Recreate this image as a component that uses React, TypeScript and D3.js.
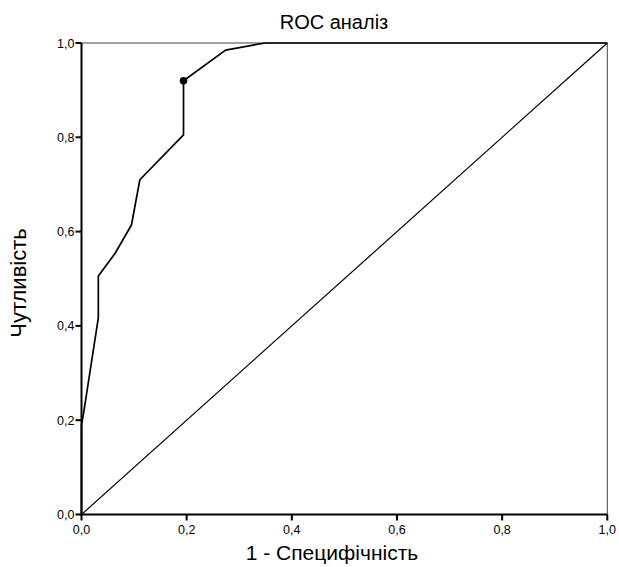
import React from "react";
import * as d3 from "d3";

const fpr = [0, 0, 0.004, 0.032, 0.032, 0.064, 0.095, 0.111, 0.194, 0.194, 0.274, 0.349, 1];
const tpr = [0, 0.19, 0.215, 0.417, 0.506, 0.554, 0.614, 0.71, 0.805, 0.92, 0.985, 1, 1];
const cutPoint = { x: 0.194, y: 0.92 };
const ticks = [0, 0.2, 0.4, 0.6, 0.8, 1.0];
const tickLabels = ["0,0", "0,2", "0,4", "0,6", "0,8", "1,0"];
const title = "ROC аналіз";
const xTitle = "1 - Специфічність";
const yTitle = "Чутливість";

const W = 619;
const H = 567;
const L = 81.5, R = 607.3, T = 43, B = 514.5;

export default function App() {
  const x = d3.scaleLinear().domain([0, 1]).range([L, R]);
  const y = d3.scaleLinear().domain([0, 1]).range([B, T]);
  const pts: [number, number][] = fpr.map((f, i) => [f, tpr[i]]);
  const line = d3.line<[number, number]>().x((d) => x(d[0])).y((d) => y(d[1]));
  const font = "Arial, 'Liberation Sans', sans-serif";
  return (
    <svg width={W} height={H} style={{ position: "absolute", left: 0, top: 0, background: "#fff" }} fontFamily={font}>
      <rect x={0} y={0} width={W} height={H} fill="#fff" />
      <text x={334} y={29} textAnchor="middle" fontSize={20} fill="#000">{title}</text>
      {/* frame top/right thin */}
      <line x1={x(0)} y1={y(1)} x2={x(1)} y2={y(1)} stroke="#444" strokeWidth={1} />
      <line x1={x(1)} y1={y(1)} x2={x(1)} y2={y(0)} stroke="#444" strokeWidth={1} />
      {/* diagonal */}
      <path d={line([[0, 0], [1, 1]]) || ""} stroke="#000" strokeWidth={1.2} fill="none" />
      {/* ROC curve */}
      <path d={line(pts) || ""} stroke="#000" strokeWidth={1.7} fill="none" strokeLinejoin="round" />
      <circle cx={x(cutPoint.x)} cy={y(cutPoint.y)} r={3.8} fill="#000" />
      {/* axes */}
      <line x1={x(0)} y1={y(0)} x2={x(1)} y2={y(0)} stroke="#000" strokeWidth={2} />
      <line x1={x(0)} y1={y(0)} x2={x(0)} y2={y(1)} stroke="#000" strokeWidth={2} />
      {ticks.map((t, i) => (
        <g key={"x" + i}>
          <line x1={x(t)} x2={x(t)} y1={y(0)} y2={y(0) + 6} stroke="#000" strokeWidth={2} />
          <text x={x(t)} y={y(0) + 19} textAnchor="middle" fontSize={12.5} fill="#000">{tickLabels[i]}</text>
        </g>
      ))}
      {ticks.map((t, i) => (
        <g key={"y" + i}>
          <line x1={x(0) - 6} x2={x(0)} y1={y(t)} y2={y(t)} stroke="#000" strokeWidth={2} />
          <text x={x(0) - 7} y={y(t) + 4.5} textAnchor="end" fontSize={12.5} fill="#000">{tickLabels[i]}</text>
        </g>
      ))}
      <text x={332} y={560} textAnchor="middle" fontSize={21} fill="#000">{xTitle}</text>
      <text transform={`translate(26, 283) rotate(-90)`} textAnchor="middle" fontSize={22} fill="#000">{yTitle}</text>
    </svg>
  );
}
